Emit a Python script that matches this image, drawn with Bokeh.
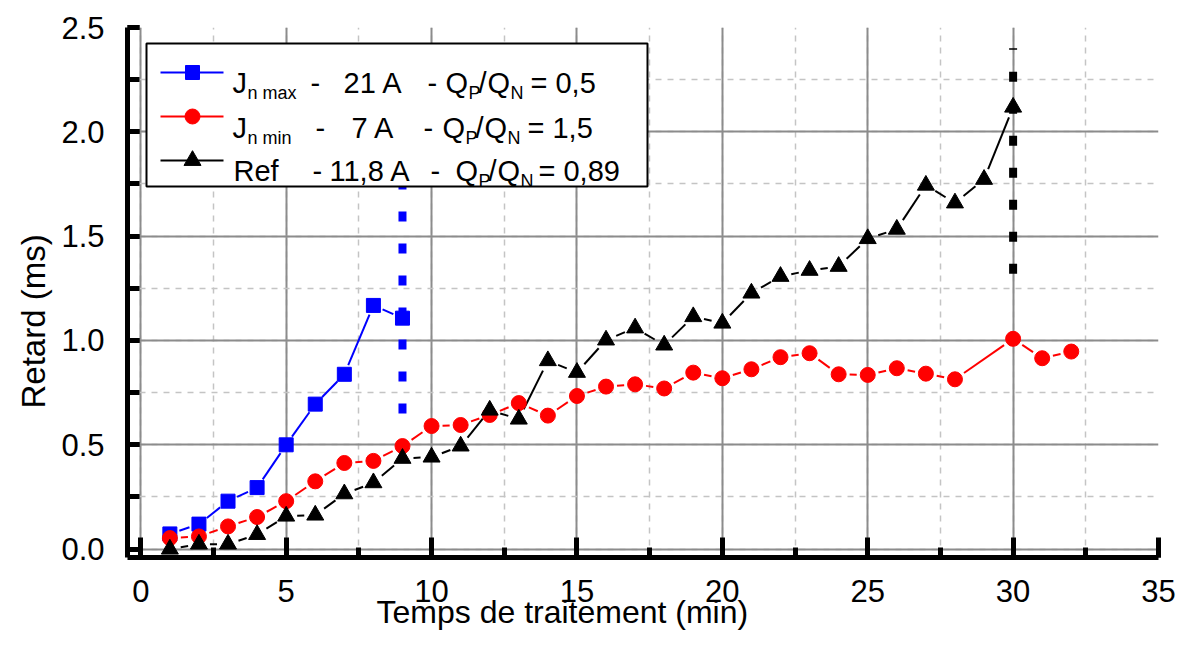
import math
from bokeh.plotting import figure
from bokeh.models import Range1d, SingleIntervalTicker, Title, ColumnDataSource, NumeralTickFormatter
from bokeh.core.properties import value
from bokeh.embed import file_html
from bokeh.resources import INLINE

# ---------------- data ----------------
t_max = [1, 2, 3, 4, 5, 6, 7, 8, 9]
delay_max = [0.073, 0.12, 0.23, 0.295, 0.50, 0.695, 0.838, 1.168, 1.107]

t_min = [1, 2, 3, 4, 5, 6, 7, 8, 9, 10, 11, 12, 13, 14, 15, 16, 17, 18, 19, 20,
         21, 22, 23, 24, 25, 26, 27, 28, 30, 31, 32]
delay_min = [0.053, 0.061, 0.109, 0.154, 0.23, 0.325, 0.413, 0.423, 0.494, 0.59,
             0.595, 0.643, 0.70, 0.64, 0.734, 0.779, 0.79, 0.77, 0.846, 0.819,
             0.862, 0.92, 0.939, 0.838, 0.835, 0.867, 0.841, 0.814, 1.008, 0.915, 0.947]

t_ref = [1, 2, 3, 4, 5, 6, 7, 8, 9, 10, 11, 12, 13, 14, 15, 16, 17, 18, 19, 20,
         21, 22, 23, 24, 25, 26, 27, 28, 29, 30]
delay_ref = [0.0, 0.024, 0.024, 0.07, 0.158, 0.163, 0.265, 0.318, 0.435, 0.441,
             0.494, 0.666, 0.623, 0.903, 0.847, 1.002, 1.06, 0.978, 1.114, 1.083,
             1.227, 1.307, 1.336, 1.355, 1.488, 1.533, 1.744, 1.659, 1.772, 2.118]

limit_t = [9, 30]
limit_low = [0.65, 1.32]
limit_high = [1.75, 2.40]
limit_colors = ["#0000ff", "#000000"]

x_label = "Temps de traitement (min)"
y_label = "Retard (ms)"

# ---------------- layout ----------------
FONT = "Liberation Sans"
W, H = 1176, 632
FL, FR, FT, FB = 127, 1158, 27, 557          # frame edges in px
X0, X1 = -0.457, 35.0
Y0, Y1 = -0.04, 2.5
SX = (FR - FL) / (X1 - X0)
SY = (FB - FT) / (Y1 - Y0)


def dx(px):  # pixel -> data x
    return X0 + (px - FL) / SX


def dy(py):  # pixel -> data y
    return Y1 - (py - FT) / SY


p = figure(width=W, height=H, output_backend="svg", toolbar_location=None,
           x_range=Range1d(X0, X1), y_range=Range1d(Y0, Y1),
           min_border_left=FL, min_border_right=W - FR,
           min_border_top=FT, min_border_bottom=H - FB)
p.outline_line_color = None
p.background_fill_color = "white"
p.border_fill_color = "white"

xt = SingleIntervalTicker(interval=5, num_minor_ticks=2)
yt = SingleIntervalTicker(interval=0.5, num_minor_ticks=2)
p.xaxis.ticker = xt
p.yaxis.ticker = yt
p.xgrid.ticker = xt
p.ygrid.ticker = yt
p.yaxis.formatter = NumeralTickFormatter(format="0.0")

for ax in (p.xaxis[0], p.yaxis[0]):
    ax.axis_line_width = 5
    ax.axis_line_color = "black"
    ax.major_tick_line_width = 5
    ax.minor_tick_line_width = 5
    ax.major_tick_line_color = "black"
    ax.minor_tick_line_color = "black"
    ax.major_tick_out = 0
    ax.minor_tick_out = 0
    ax.major_label_text_font = FONT
    ax.major_label_text_font_size = "31px"
    ax.major_label_text_color = "black"

p.xaxis.major_tick_in = 20
p.xaxis.minor_tick_in = 10
p.xaxis.major_label_standoff = 22
p.yaxis.major_tick_in = 12
p.yaxis.minor_tick_in = 12
p.yaxis.major_label_standoff = 23

for g in (p.xgrid[0], p.ygrid[0]):
    g.grid_line_color = "#8c8c8c"
    g.grid_line_width = 2
    g.minor_grid_line_color = "#c4c4c4"
    g.minor_grid_line_width = 1.5
    g.minor_grid_line_dash = "6 6"

# axis titles
p.add_layout(Title(text=x_label, align="left", vertical_align="top", offset=376 - FL,
                   standoff=-21, text_font=FONT, text_font_size="32px",
                   text_font_style="normal", text_color="black"), "below")
p.add_layout(Title(text=y_label, align="left", vertical_align="bottom", offset=FB - 408,
                   standoff=13, text_font=FONT, text_font_size="33px",
                   text_font_style="normal", text_color="black"), "left")

# vertical dotted limits
p.segment(x0=limit_t, x1=limit_t, y0=limit_low, y1=limit_high, line_color=limit_colors,
          line_width=8, line_dash="10 22", line_cap="butt")


def gapped(xs, ys, gap):
    a, b, c, d = [], [], [], []
    for xa, ya, xb, yb in zip(xs[:-1], ys[:-1], xs[1:], ys[1:]):
        ddx = (xb - xa) * SX
        ddy = (yb - ya) * SY
        L = math.hypot(ddx, ddy)
        if L <= 2 * gap:
            continue
        f = gap / L
        a.append(xa + (xb - xa) * f)
        b.append(ya + (yb - ya) * f)
        c.append(xb - (xb - xa) * f)
        d.append(yb - (yb - ya) * f)
    return a, b, c, d


series = [
    (t_max, delay_max, "#0000ff", "square", 14, 10),
    (t_min, delay_min, "#ff0000", "circle", 15, 11),
    (t_ref, delay_ref, "#000000", "triangle", 17, 11),
]
for xs, ys, col, mk, sz, gap in series:
    a, b, c, d = gapped(xs, ys, gap)
    p.segment(x0=a, y0=b, x1=c, y1=d, line_color=col, line_width=2)
for xs, ys, col, mk, sz, gap in series:
    p.scatter(xs, ys, marker=mk, size=sz, fill_color=col, line_color=col, line_width=1)

# ---------------- legend ----------------
p.quad(left=dx(146), right=dx(647), top=dy(43), bottom=dy(186), fill_color="white",
       line_color="black", line_width=2)
rows_y = [72, 116, 160]
for (xs, ys, col, mk, sz, gap), ry in zip(series, rows_y):
    p.segment(x0=[dx(160)], x1=[dx(223)], y0=[dy(ry)], y1=[dy(ry)], line_color=col, line_width=2)
    p.scatter([dx(192)], [dy(ry)], marker=mk, size=sz, fill_color=col, line_color=col)

leg_main = [
    [("J", 232), ("-", 310), ("21 A", 343), ("-", 427), ("Q", 445), ("/", 478), ("Q", 487), ("= 0,5", 530)],
    [("J", 232), ("-", 315), ("7 A", 351), ("-", 423), ("Q", 442), ("/", 475), ("Q", 484), ("= 1,5", 527)],
    [("Ref", 233), ("-", 312), ("11,8 A", 329), ("-", 430), ("Q", 455), ("/", 488), ("Q", 497), ("= 0,89", 538)],
]
leg_sub = [
    [("n max", 247), ("P", 468), ("N", 510)],
    [("n min", 247), ("P", 465), ("N", 507)],
    [("P", 478), ("N", 520)],
]
baselines = [82, 127, 170]

mx, my, mt, sx_, sy_, st = [], [], [], [], [], []
for row, subs, bl in zip(leg_main, leg_sub, baselines):
    for t, px in row:
        mx.append(dx(px)); my.append(dy(bl)); mt.append(t)
    for t, px in subs:
        sx_.append(dx(px)); sy_.append(dy(bl + 10)); st.append(t)

p.text(x="x", y="y", text="text", source=ColumnDataSource(dict(x=mx, y=my, text=mt)),
       text_font=value(FONT), text_font_size=value("29px"), text_baseline=value("alphabetic"),
       text_align=value("left"), text_color="black")
p.text(x="x", y="y", text="text", source=ColumnDataSource(dict(x=sx_, y=sy_, text=st)),
       text_font=value(FONT), text_font_size=value("18px"), text_baseline=value("alphabetic"),
       text_align=value("left"), text_color="black")

open("out.html", "w").write(file_html(p, INLINE))
